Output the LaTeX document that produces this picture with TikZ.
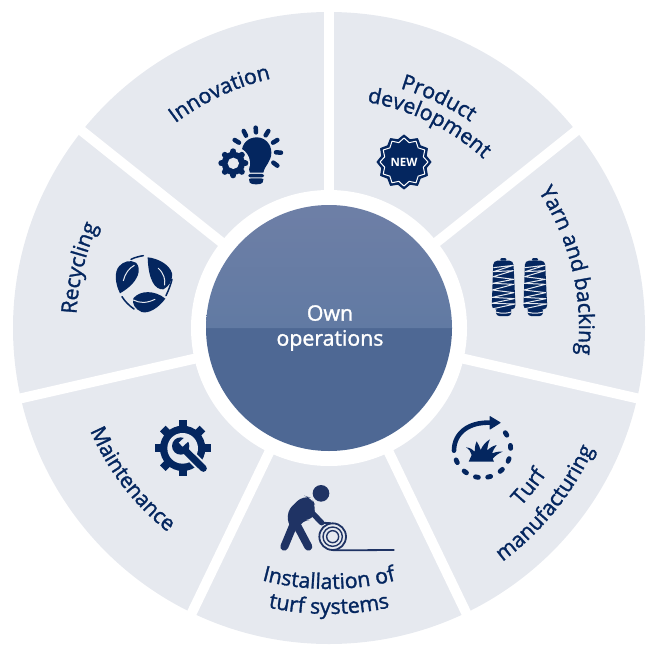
\documentclass[tikz,border=0pt]{standalone}
\usepackage{fontspec}
\setmainfont{Open Sans}
\newfontfamily\semib{Open Sans}[FakeBold=1.4]
\usetikzlibrary{decorations.text}
\definecolor{navy}{HTML}{04265F}
\definecolor{manblue}{HTML}{1F3364}
\definecolor{sector}{HTML}{E6E9EF}
\definecolor{discdark}{HTML}{4E6894}
\definecolor{disctop}{HTML}{6E7FA6}
\definecolor{discmid}{HTML}{617AA3}
\newcommand{\lbl}{\fontsize{21.3}{24}\selectfont\semib\color{navy}}
\tikzset{
  curved/.style 2 args={decorate,decoration={text along path,text align=center,text={|\lbl|#1}},#2},
  vein/.style={draw=sector,line width=1pt,line cap=round},
  thread/.style={draw=sector,line width=1pt},
  rollring/.style={draw=manblue,line width=1.4pt},
  limb/.style={draw=manblue,line cap=round,line join=round}
}
\newcommand{\carc}[4]{\path[curved={#1}{}] (#3:#2) arc[start angle=#3,end angle=#4,radius=#2];}
\begin{document}
\begin{tikzpicture}[x=1pt,y=1pt]
\useasboundingbox (0,0) rectangle (655,-655);
% wheel
\begin{scope}[shift={(329,-328)}]
  \fill[sector] (0,0) circle[radius=316];
  \foreach \a in {90,38.57,-12.86,-64.29,-115.71,-167.14,141.43}
    \draw[white,line width=10pt] (0,0) -- (\a:330);
  \fill[white] (0,0) circle[radius=138];
  \fill[discdark] (-123,0) arc[start angle=180,end angle=360,radius=123] -- cycle;
  \shade[top color=disctop,bottom color=discmid] (123,0) arc[start angle=0,end angle=180,radius=123] -- cycle;
  \carc{Innovation}{256}{145}{85}
  \carc{Product}{250}{95}{34}
  \carc{development}{229}{100}{28}
  \carc{Yarn and backing}{250}{46}{-19}
  \carc{Turf}{262}{-68.5}{-8.5}
  \carc{manufacturing}{291}{-69}{-9}
  \carc{Installation of}{261}{-125}{-55}
  \carc{turf systems}{286}{-120}{-60}
  \carc{Maintenance}{260}{185}{250}
  \carc{Recycling}{253}{199}{134}
\end{scope}
\node[align=center,text=white,font=\fontsize{21.3}{25}\selectfont\semib,inner sep=0pt] (centre) at (330,-328) {Own\\operations};

% bulb and gear
\begin{scope}[shift={(200,-60)},xscale=1/3,yscale=-1/3]
  \fill[navy] (150,338) .. controls (145,315) and (125,305) .. (125,278) .. controls (125,250) and (145,232) .. (170,232) .. controls (195,232) and (214,252) .. (214,278) .. controls (214,305) and (195,315) .. (190,338) -- cycle;
  \fill[navy,rounded corners=2pt] (145,342) rectangle (192,352);
  \fill[navy,rounded corners=2pt] (147,355) -- (190,355) -- (190,362) .. controls (185,375) and (152,375) .. (147,362) -- cycle;
  \foreach \p/\q in {{(167,203)}/{(168,217)},{(131,213)}/{(138,227)},{(205,213)}/{(197,226)},{(104,240)}/{(117,248)},{(232,240)}/{(219,248)},{(228,277)}/{(243,278)},{(220,308)}/{(232,317)}}
    \draw[navy,line width=4.5pt,line cap=round] \p -- \q;
  \fill[sector] (100,310) circle[radius=50];
  \fill[navy] (100,310) circle[radius=35];
  \foreach \a in {0,45,...,315}
    \draw[navy,line width=6pt,line cap=round] (100,310) ++(\a:30) -- ++(\a:6);
  \fill[sector] (100,310) circle[radius=17];
\end{scope}

% NEW badge
\begin{scope}[shift={(404,-162)}]
  \fill[navy,draw=navy,line width=1pt,line join=round] (345:23) \foreach \a in {0,30,...,330}{ -- (\a:27) -- (\a+15:23)} -- cycle;
  \draw[white,line width=1pt,line join=round] (345:20) \foreach \a in {0,30,...,330}{ -- (\a:24) -- (\a+15:20)} -- cycle;
  \node[text=white,font=\fontsize{11.5}{12}\selectfont\bfseries,inner sep=0pt] (newtag) at (0,0) {NEW};
\end{scope}

% spools
\begin{scope}[shift={(430,-240)},xscale=1/3,yscale=-1/3]
  \foreach \dx in {0,95}{
  \begin{scope}[xshift=\dx*1pt]
    \fill[navy,rounded corners=1pt] (210,62) -- (212,54) -- (228,54) -- (230,62) -- cycle;
    \fill[navy,rounded corners=4pt] (190,62) -- (250,62) -- (257,208) -- (185,208) -- cycle;
    \fill[navy,rounded corners=3pt] (197,205) -- (245,205) -- (243,228) -- (199,228) -- cycle;
    \draw[thread,line join=round] (190,83) -- (250,76) -- (190,95) -- (250,92) -- (189,110) -- (251,118) -- (188,130) -- (251,133) -- (187,150) -- (252,158) -- (187,172) -- (253,176) -- (185,190) -- (255,192) -- (185,207);
    \draw[thread] (188,212) .. controls (205,222) and (235,222) .. (254,212);
  \end{scope}}
\end{scope}

% turf cycle
\begin{scope}[shift={(430,-400)},xscale=1/3,yscale=-1/3]
  \draw[navy,line width=4.6pt,line cap=round] (72,152) .. controls (72,100) and (115,65) .. (183,68);
  \fill[navy,draw=navy,line width=1pt,line join=round] (180,50) -- (210,68) -- (180,87) -- cycle;
  \foreach \a in {-33,-5,22,48,76,101,127,155}
    \draw[navy,line width=4.8pt,line cap=round] (157,148) ++(\a-3:85) -- ++(\a+90:9);
  \fill[navy] (116,185) -- (125,165) .. controls (122,155) and (118,148) .. (108,142) .. controls (120,143) and (128,148) .. (134,155) .. controls (134,145) and (135,135) .. (140,124) .. controls (145,132) and (150,142) .. (152,150) .. controls (157,138) and (166,126) .. (180,118) .. controls (174,130) and (172,142) .. (172,152) .. controls (178,144) and (188,138) .. (200,135) .. controls (194,144) and (188,152) .. (186,160) .. controls (195,156) and (206,154) .. (218,155) .. controls (205,160) and (195,168) .. (188,176) -- (192,185) -- cycle;
\end{scope}

% installer
\begin{scope}[shift={(260,-470)},xscale=1/3,yscale=-1/3]
  \fill[manblue] (183,70) circle[radius=25];
  \fill[manblue,rounded corners=8pt] (130,76) -- (155,84) -- (168,110) -- (160,150) -- (125,150) -- (112,185) -- (90,180) -- (79,125) -- cycle;
  \draw[limb,line width=8pt] (100,165) -- (73,230);
  \draw[limb,line width=8pt] (108,160) -- (145,230);
  \draw[limb,line width=5.5pt] (150,122) -- (185,158);
  \draw[limb,line width=2pt] (185,158) -- (212,160);
  \draw[rollring,line width=1.8pt] (218,200) circle[radius=40];
  \draw[rollring] (218,200) circle[radius=29];
  \draw[rollring] (218,200) circle[radius=18];
  \draw[rollring,line width=1.8pt] (218,241) -- (403,240);
\end{scope}

% gear with wrench
\begin{scope}[shift={(140,-400)},xscale=1/3,yscale=-1/3]
  \fill[navy] (128,145) circle[radius=68];
  \foreach \a in {0,45,...,315}
    \draw[navy,line width=8pt] (128,145) ++(\a:60) -- ++(\a:24);
  \fill[sector] (128,145) circle[radius=46];
  \draw[sector,line width=11pt] (132,148) -- (195,210);
  \draw[navy,line width=7pt,line cap=round] (132,148) -- (190,205);
  \fill[navy] (122,138) circle[radius=26];
  \draw[sector,line width=5.5pt] (122,134) -- (146,112);
\end{scope}

% leaves
\begin{scope}[shift={(100,-240)},xscale=1/3,yscale=-1/3]
  \fill[navy] (60,160) .. controls (45,130) and (42,95) .. (58,78) .. controls (70,65) and (90,58) .. (108,68) .. controls (125,85) and (120,125) .. (60,160) -- cycle;
  \draw[vein] (70,122) .. controls (75,100) and (88,84) .. (103,76);
  \draw[navy,line width=1.5pt,line cap=round] (93,58) .. controls (105,52) and (118,49) .. (130,47);
  \fill[navy] (143,52) .. controls (175,55) and (210,75) .. (216,100) .. controls (218,125) and (205,140) .. (190,148) .. controls (165,150) and (145,120) .. (143,52) -- cycle;
  \draw[vein] (175,85) .. controls (192,100) and (196,118) .. (194,135);
  \draw[navy,line width=1.5pt,line cap=round] (216,118) .. controls (212,135) and (205,152) .. (198,167);
  \fill[navy] (196,176) .. controls (175,205) and (145,222) .. (125,216) .. controls (105,208) and (95,190) .. (100,175) .. controls (120,150) and (165,150) .. (196,176) -- cycle;
  \draw[vein] (100,180) .. controls (120,190) and (140,190) .. (165,178);
  \draw[navy,line width=1.5pt,line cap=round] (66,170) .. controls (75,185) and (88,197) .. (102,207);
\end{scope}
\end{tikzpicture}
\end{document}
